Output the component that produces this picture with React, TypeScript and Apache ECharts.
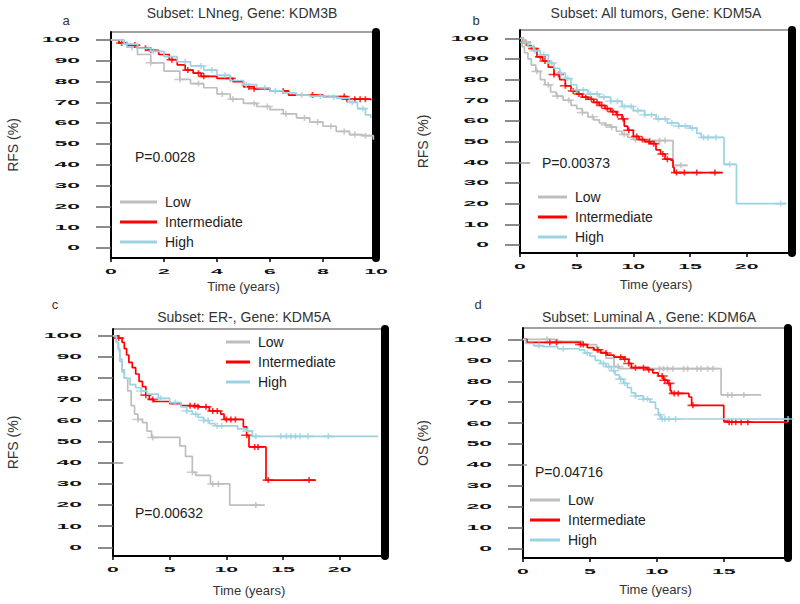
import React, { useEffect, useRef } from 'react';
import * as echarts from 'echarts';

// ---------- data ----------
const groups = ['Low', 'Intermediate', 'High'];
const yTicks = [0, 10, 20, 30, 40, 50, 60, 70, 80, 90, 100];
const xTicksA = [0, 2, 4, 6, 8, 10];
const xTicksB = [0, 5, 10, 15, 20];
const xTicksC = [0, 5, 10, 15, 20];
const xTicksD = [0, 5, 10, 15];

const titles = [
  'Subset: LNneg, Gene: KDM3B',
  'Subset: All tumors, Gene: KDM5A',
  'Subset: ER-, Gene: KDM5A',
  'Subset: Luminal A , Gene: KDM6A',
];
const letters = ['a', 'b', 'c', 'd'];
const pValues = ['P=0.0028', 'P=0.00373', 'P=0.00632', 'P=0.04716'];
const yNames = ['RFS (%)', 'RFS (%)', 'RFS (%)', 'OS (%)'];
const xName = 'Time (years)';

// panel a
const aLow = [[0,100],[0.3,98.5],[0.6,96.5],[1.0,93],[1.5,89],[2.0,85],[2.6,81],[3.0,79],[3.5,77],[4.0,74],[4.5,71.5],[5.0,69.5],[5.5,68],[6.0,66.5],[6.5,64.5],[7.0,62.5],[7.5,60.5],[8.0,58.5],[8.5,56],[9.0,54.5],[9.5,54],[9.9,52]];
const aInt = [[0,100],[0.3,98.5],[0.6,97.5],[1.0,96],[1.4,95],[1.8,93],[2.2,90.5],[2.5,88],[2.8,85.5],[3.1,84],[3.4,82.5],[4.0,81.5],[4.6,80],[5.0,77.5],[5.4,76.5],[6.0,75.5],[6.7,73.5],[7.5,73.5],[8.0,72.8],[8.9,71.5],[9.8,71]];
const aHigh = [[0,100],[0.5,98],[1.0,96],[1.5,94.5],[2.0,92],[2.5,89.5],[3.0,87.5],[3.5,85.5],[4.0,83],[4.5,80.5],[5.0,78.5],[5.5,77],[6.0,75.5],[6.5,74.5],[7.0,73.5],[7.5,73],[8.0,72.5],[8.5,72],[9.0,70],[9.3,67],[9.6,64],[9.8,62.5]];
const aLowCens = [0.8,1.5,2.6,3.3,4.2,4.6,5.4,5.9,6.6,7.3,7.8,8.3,8.8,9.2,9.6];
const aIntCens = [0.4,0.9,1.3,1.5,2.3,2.9,3.3,3.5,4.5,5.2,5.4,6.5,7.6,8.8,8.9,9.2,9.4,9.6];
const aHighCens = [0.6,1.6,2.8,3.4,3.8,4.3,5.1,5.8,6.2,7.2,7.9,8.4,9.1,9.5];

// panel b
const bLow = [[0,100],[0.2,96],[0.4,93],[0.7,90],[1.0,87],[1.4,84],[1.8,80],[2.2,77.5],[2.7,74],[3.2,72],[3.8,70],[4.5,67.5],[5.0,66],[5.5,64],[6.0,62],[6.5,60.5],[7.0,59],[7.5,58],[8.0,57],[8.5,55],[9.0,53.5],[9.5,52],[10.0,51],[11.0,50.5],[13.4,50.5],[13.5,38.5],[14.8,38.5]];
const bInt = [[0,100],[0.3,98],[0.6,96.5],[1.0,95],[1.5,91],[2.0,89],[2.5,86],[3.0,82.5],[3.5,80],[4.0,77],[4.5,74.5],[5.0,73],[5.5,71.5],[6.0,70.5],[6.5,69],[7.0,67.5],[7.5,66],[8.0,64.5],[8.5,63],[9.0,61],[9.2,57.5],[9.5,55.5],[10.0,52.5],[10.5,51],[11.0,50],[11.5,49],[12.0,46],[12.4,44],[12.8,41.5],[13.3,41],[13.5,37.5],[13.6,35],[17.9,35]];
const bHigh = [[0,100],[0.3,98],[0.7,96],[1.2,94],[1.8,92],[2.5,88],[3.0,85.5],[3.5,83],[4.0,80.5],[4.5,77.5],[5.0,75],[6.0,73],[7.0,71.5],[8.0,69.5],[9.0,67],[10.0,65],[11.0,63],[12.0,61],[13.0,59],[14.0,57.5],[15.0,56.5],[15.6,54],[16.0,52],[17.9,52],[18.0,39],[19.0,39],[19.1,20],[23.5,20]];
const bLowCens = [1.5,2.5,3.3,4.3,5.5,6.4,7.6,8.1,9.2,10.2,11.5,12.3,12.8,14.2];
const bIntCens = [0.5,1.2,1.8,2.2,3.0,3.4,4.0,4.7,5.2,5.8,6.3,6.8,7.2,7.7,8.2,8.6,9.1,9.6,10.3,10.8,11.4,11.8,12.6,13.0,13.8,14.5,15.6,17.2];
const bHighCens = [0.5,1.3,2.1,2.8,3.6,4.2,5.0,5.6,6.2,6.8,7.4,8.0,8.6,9.2,9.8,10.4,11.0,11.6,12.2,12.8,13.4,14.0,14.6,15.2,16.2,16.6,17.3,18.5,23.0];

// panel c
const cLow = [[0,100],[0.3,97],[0.45,94],[0.6,89],[0.8,84],[1.0,80],[1.3,74],[1.6,67],[1.9,63],[2.2,60.5],[2.6,59],[3.0,55],[3.4,52],[5.7,52],[5.9,48],[6.4,43],[7.0,35.5],[7.3,34],[8.6,30],[10.2,30],[10.3,20],[13.4,20]];
const cInt = [[0,100],[0.5,99],[0.8,97],[1.0,94],[1.2,91],[1.4,87.5],[1.7,85],[2.0,82],[2.3,78.5],[2.6,76],[2.9,72],[3.2,70],[3.6,69],[5.0,68],[6.0,67],[7.5,66.5],[8.5,64.5],[9.5,63],[9.8,60.5],[11.3,60.5],[11.5,57],[11.8,53],[12.0,47.5],[13.4,47.5],[13.5,31.8],[17.9,31.8]];
const cHigh = [[0,100],[0.3,97],[0.5,93],[0.6,88],[0.8,83],[1.0,80],[1.5,77],[2.0,75.5],[2.5,74],[3.0,72.5],[4.0,70.5],[5.0,68.5],[6.0,66.5],[6.5,64.5],[7.0,63],[7.5,61.5],[8.0,60],[8.5,58.5],[9.0,57.5],[10.6,57.5],[11.0,56],[11.8,55],[12.3,52.5],[23.4,52.5]];
const cLowCens = [2.2,3.5,7.0,8.8,9.3,12.6];
const cIntCens = [0.5,2.9,3.5,6.8,7.2,7.5,8.2,8.8,9.2,10.0,10.4,10.8,11.8,12.5,12.8,13.7,17.3];
const cHighCens = [2.5,4.2,5.5,6.5,7.3,8.0,8.4,9.2,9.6,11.9,12.6,14.8,15.3,15.7,16.1,16.5,17.2,19.0];

// panel d
const dLow = [[0,100],[2.5,99],[4.5,97.5],[5.5,94],[6.2,91],[6.8,87],[7.2,86],[14.7,86],[14.8,73.5],[17.8,73.5]];
const dInt = [[0,100],[0.3,98.5],[4.3,97.5],[4.8,96],[5.3,95],[5.8,93.5],[6.3,92.5],[6.8,91.5],[7.5,90.5],[7.9,88.5],[8.1,86.5],[9.3,85.5],[9.7,84],[10.1,82.5],[10.5,80.5],[10.8,79],[11.0,75.5],[11.1,74.2],[12.4,72.5],[12.6,68.5],[14.9,68.5],[15.0,61],[15.3,60.5],[19.8,60.5]];
const dHigh = [[0,100],[0.2,98],[0.8,97],[1.5,96.5],[2.6,95.5],[4.2,95],[4.6,93.5],[5.0,92],[5.4,90],[5.8,88.5],[6.2,87],[6.6,85],[6.9,83],[7.2,81],[7.5,79],[7.8,77],[8.1,74.5],[8.4,73],[9.0,71.5],[9.5,70],[9.9,67],[10.1,64],[10.3,62],[19.9,62]];
const dLowCens = [1.8,2.6,7.1,10.2,10.5,10.8,11.2,12.0,12.3,13.0,13.3,13.8,14.2,15.3,15.6,16.5];
const dIntCens = [2.0,2.5,4.3,4.5,5.6,6.2,7.3,7.6,7.9,8.4,9.0,9.4,10.4,10.6,10.9,11.3,11.6,12.7,15.4,15.6,15.9,16.3,16.8];
const dHighCens = [1.2,3.0,4.8,6.0,6.4,6.8,7.3,7.6,8.4,9.0,9.3,10.2,10.4,10.6,10.9,11.4,19.8];

// stray short mark at 40 seen in panels b, c, d (value-space extents)
const strayMarks = [null, [0, 0.9, 40], [0, 0.9, 40], [0, 0.3, 40]];

const curves = [
  [aLow, aInt, aHigh],
  [bLow, bInt, bHigh],
  [cLow, cInt, cHigh],
  [dLow, dInt, dHigh],
];
const censors = [
  [aLowCens, aIntCens, aHighCens],
  [bLowCens, bIntCens, bHighCens],
  [cLowCens, cIntCens, cHighCens],
  [dLowCens, dIntCens, dHighCens],
];
const xTicks = [xTicksA, xTicksB, xTicksC, xTicksD];

// ---------- layout / style ----------
const COLORS = ['#bebebe', '#ff0000', '#9dd2e2'];
const FONT = 'Liberation Sans, Arial, sans-serif';
const PLUS = 'path://M0,2.2H12V3.8H0ZM5.1,0H6.9V6H5.1Z';

const layout = [
  { left: 111, top: 32, width: 265, height: 226, xMax: 10, yMin: -4.8, yMax: 103.8, yGap: 91, xGap: 22,
    legend: { left: 120, top: 195, w: 37 }, p: [135, 157], title: [242, 13], letter: [66, 20] },
  { left: 520, top: 30, width: 272, height: 223, xMax: 24, yMin: -3.9, yMax: 104, yGap: 90, xGap: 25,
    legend: { left: 538, top: 190, w: 29 }, p: [542, 163], title: [656, 13], letter: [476, 20] },
  { left: 113, top: 329, width: 272, height: 227, xMax: 24, yMin: -4.1, yMax: 103.3, yGap: 93, xGap: 28,
    legend: { left: 226, top: 335, w: 24 }, p: [135, 513], title: [244, 317], letter: [55, 304] },
  { left: 523, top: 328, width: 265, height: 230, xMax: 19.8, yMin: -4.3, yMax: 105.4, yGap: 93, xGap: 25,
    legend: { left: 530, top: 493, w: 30 }, p: [535, 472], title: [649, 317], letter: [478, 304] },
];

function survAt(curve: number[][], t: number) {
  let y = curve[0][1];
  for (const [x, v] of curve) {
    if (x <= t) y = v;
    else break;
  }
  return y;
}

export default function App() {
  const ref = useRef<HTMLDivElement>(null);

  useEffect(() => {
    if (!ref.current) return;
    const chart = echarts.init(ref.current, undefined, { renderer: 'svg' });

    const grids: any[] = [];
    const xAxes: any[] = [];
    const yAxes: any[] = [];
    const rightAxes: any[] = [];
    const legends: any[] = [];
    const series: any[] = [];

    layout.forEach((L, i) => {
      grids.push({
        left: L.left, top: L.top, width: L.width, height: L.height,
        show: true, borderColor: '#444', borderWidth: 1, backgroundColor: 'transparent',
      });
      xAxes.push({
        type: 'value', gridIndex: i, min: 0, max: L.xMax,
        name: xName, nameLocation: 'middle', nameGap: L.xGap,
        nameTextStyle: { fontFamily: FONT, fontSize: 13, color: '#333' },
        axisLine: { show: true, onZero: false, lineStyle: { color: '#000', width: 2 } },
        axisTick: { show: true, length: 4, customValues: xTicks[i], lineStyle: { color: '#000', width: 1.5 } },
        axisLabel: { show: false },
        splitLine: { show: false },
      });
      yAxes.push({
        type: 'value', gridIndex: i, min: L.yMin, max: L.yMax, position: 'left',
        name: yNames[i], nameLocation: 'middle', nameGap: L.yGap, nameRotate: 90,
        nameTextStyle: { fontFamily: FONT, fontSize: 14, color: '#333' },
        axisLine: { show: true, onZero: false, lineStyle: { color: '#000', width: 2 } },
        axisTick: { show: true, length: 15, customValues: yTicks, lineStyle: { color: '#666', width: 1.5 } },
        axisLabel: { show: false },
        splitLine: { show: false },
      });
      rightAxes.push({
        type: 'value', gridIndex: i, min: L.yMin, max: L.yMax, position: 'right',
        axisLine: { show: true, onZero: false, lineStyle: { color: '#000', width: 8 } },
        axisTick: { show: false }, axisLabel: { show: false }, splitLine: { show: false },
      });
      legends.push({
        data: groups, orient: 'vertical', left: L.legend.left, top: L.legend.top,
        itemWidth: L.legend.w, itemHeight: 3, itemGap: 6, icon: 'rect', padding: 0,
        selectedMode: false,
        textStyle: { fontFamily: FONT, fontSize: 14, color: '#222', padding: [0, 0, 0, 3] },
      });
      groups.forEach((g, k) => {
        const curve = curves[i][k];
        const s: any = {
          type: 'line', name: g, xAxisIndex: i, yAxisIndex: i, data: curve, step: 'end',
          showSymbol: false, symbol: 'none', silent: true, z: 2 + k,
          lineStyle: { color: COLORS[k], width: 1.7 }, itemStyle: { color: COLORS[k] },
        };
        const sm = strayMarks[i];
        if (k === 0 && sm) {
          s.markLine = {
            silent: true, symbol: 'none', label: { show: false },
            lineStyle: { color: '#999', width: 1.5, type: 'solid' },
            data: [[{ coord: [sm[0], sm[2]] }, { coord: [sm[1], sm[2]] }]],
          };
        }
        series.push(s);
        series.push({
          type: 'scatter', name: g + ' (censored)', xAxisIndex: i, yAxisIndex: i, silent: true, z: 2 + k,
          data: censors[i][k].map((t) => [t, survAt(curve, t)]),
          symbol: PLUS, symbolSize: [11, 6], itemStyle: { color: COLORS[k] },
        });
      });
    });

    chart.setOption({
      animation: false,
      backgroundColor: '#fff',
      grid: grids,
      xAxis: xAxes,
      yAxis: [...yAxes, ...rightAxes],
      legend: legends,
      series,
    });

    // texts: tick labels (positioned via the axes' own scales), titles, p-values
    const graphics: any[] = [];
    const tickStyle = { fill: '#111', fontSize: 8.5, fontWeight: 'bold', fontFamily: FONT };
    layout.forEach((L, i) => {
      xTicks[i].forEach((v) => {
        const px = chart.convertToPixel({ xAxisIndex: i } as any, v) as number;
        graphics.push({
          type: 'text', x: px, y: L.top + L.height + 13, scaleX: 2.5, scaleY: 0.85, silent: true,
          style: { ...tickStyle, text: String(v), align: 'center', verticalAlign: 'middle',
            textAlign: 'center', textVerticalAlign: 'middle' },
        });
      });
      yTicks.forEach((v) => {
        const py = chart.convertToPixel({ yAxisIndex: i } as any, v) as number;
        graphics.push({
          type: 'text', x: L.left - 31, y: py, scaleX: 2.7, scaleY: 0.85, silent: true,
          style: { ...tickStyle, text: String(v), align: 'right', verticalAlign: 'middle',
            textAlign: 'right', textVerticalAlign: 'middle' },
        });
      });
      graphics.push({
        type: 'text', x: L.title[0], y: L.title[1], silent: true,
        style: { text: titles[i], fill: '#333', fontSize: 14, fontFamily: FONT,
          align: 'center', verticalAlign: 'middle', textAlign: 'center', textVerticalAlign: 'middle' },
      });
      graphics.push({
        type: 'text', x: L.letter[0], y: L.letter[1], silent: true,
        style: { text: letters[i], fill: '#333', fontSize: 13, fontFamily: FONT,
          align: 'center', verticalAlign: 'middle', textAlign: 'center', textVerticalAlign: 'middle' },
      });
      graphics.push({
        type: 'text', x: L.p[0], y: L.p[1], silent: true,
        style: { text: pValues[i], fill: '#222', fontSize: 14, fontFamily: FONT,
          align: 'left', verticalAlign: 'middle', textAlign: 'left', textVerticalAlign: 'middle' },
      });
    });
    chart.setOption({ graphic: graphics });

    return () => chart.dispose();
  }, []);

  return (
    <div
      ref={ref}
      style={{ position: 'absolute', left: 0, top: 0, width: 800, height: 604, background: '#fff' }}
    />
  );
}
